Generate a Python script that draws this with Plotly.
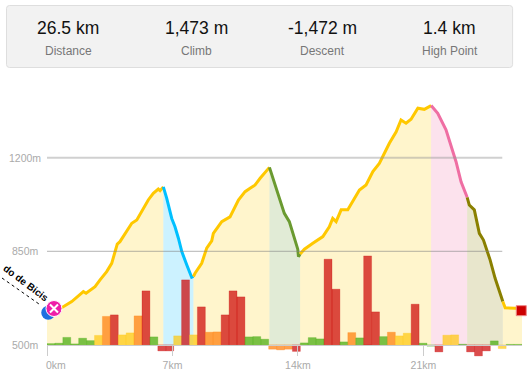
import plotly.graph_objects as go

TOTAL_KM = 26.5
# elevation profile segments: (distance km, elevation m)
seg1_km = [0, .82, 1.38, 2.03, 2.18, 2.68, 2.96, 3.33, 3.61, 3.79, 3.92, 4.07, 4.45, 4.73, 5.01, 5.37, 5.65, 5.93, 6.21, 6.31, 6.49]
seg1_m = [623, 639, 662, 699, 693, 718, 743, 774, 805, 843, 877, 886, 923, 955, 967, 1011, 1042, 1067, 1083, 1077, 1091]
seg2_km = [6.49, 6.68, 6.96, 7.14, 7.33, 7.52, 7.80, 8.07, 8.17]
seg2_m = [1091, 1048, 973, 942, 899, 849, 799, 753, 756]
seg3_km = [8.17, 8.26, 8.63, 8.91, 9.19, 9.28, 9.75, 10.21, 10.68, 11.05, 11.33, 11.61, 11.89, 12.26, 12.41]
seg3_m = [756, 768, 805, 862, 889, 917, 961, 979, 1042, 1073, 1086, 1098, 1123, 1154, 1164]
seg4_km = [12.41, 12.68, 12.96, 13.24, 13.52, 13.71, 13.99, 14.03, 14.12]
seg4_m = [1164, 1110, 1054, 992, 961, 917, 858, 830, 840]
seg5_km = [14.12, 14.36, 14.83, 15.39, 15.75, 15.94, 16.13, 16.41, 16.78, 17.24, 17.43, 17.80, 18.18, 18.54, 19.10, 19.48, 19.75, 20.03, 20.31, 20.69, 21.05, 21.43]
seg5_m = [840, 858, 880, 905, 942, 973, 961, 1005, 1005, 1054, 1079, 1098, 1148, 1179, 1254, 1297, 1341, 1329, 1344, 1385, 1381, 1395]
seg6_km = [21.43, 21.80, 22.26, 22.54, 22.82, 23.10, 23.44]
seg6_m = [1395, 1366, 1304, 1241, 1185, 1110, 1052]
seg7_km = [23.44, 23.56, 23.84, 24.12, 24.35, 24.72, 25.00, 25.43]
seg7_m = [1052, 1023, 1005, 917, 892, 818, 749, 662]
seg8_km = [25.43, 25.56, 26.12, 26.5]
seg8_m = [662, 639, 637, 634]

# gradient bars
grade = [.65, .85, 3.75, .5, 3.35, 2.15, 4.75, 14.25, 15, 5, 6, 14.5, 27, 4, -3, -3, 4.5, 32.5, 5, 19,
         6.35, 6.5, 15, 27, 24, 4, 4.15, 2.85, -2.15, -2.5, -2.15, -3.25, 1, 3.65, 3, 42.85, 27.85, 1.5, 6.15, 3.5,
         44.5, 16.5, 4.15, 6.35, 4.5, 5.85, 20.35, .85, -.65, -3.5, 4.85, 5, .35, -3.5, -5.5, -3, 2, -1.85, .25, .25]
grade_class = list("ggggggyoryyorgrryryroorrrgggooorgggrrgogrrgoyyrggryygrrrgygg")
class_fill = {"g": "rgba(65,170,10,.7)", "y": "rgba(255,200,12,.7)", "o": "rgba(255,123,4,.7)", "r": "rgba(204,0,0,.7)"}
class_edge = {"g": "rgba(65,170,10,.25)", "y": "rgba(255,200,12,.25)", "o": "rgba(255,123,4,.25)", "r": "rgba(204,0,0,.25)"}

stats_values = ["26.5 km", "1,473 m", "-1,472 m", "1.4 km"]
stats_labels = ["Distance", "Climb", "Descent", "High Point"]
km_ticks = [0, 7, 14, 21]
km_labels = ["0km", "7km", "14km", "21km"]
m_ticks = [500, 850, 1200]
m_labels = ["500m", "850m", "1200m"]

W, H = 531, 374
L, R, T, B = 47, 9.1, 90, 14
pw, ph = W - L - R, H - T - B
Y0 = 344.9
PX_PER_M = 0.2674
below = T + ph - Y0


def px(x):
    return (x - L) / pw


def py(y):
    return 1 - (y - T) / ph


fig = go.Figure()
segments = [
    (seg1_km, seg1_m, "#ffc800", "rgba(255,204,0,.2)"),
    (seg2_km, seg2_m, "#00c0ff", "rgba(0,192,255,.2)"),
    (seg3_km, seg3_m, "#ffc800", "rgba(255,204,0,.2)"),
    (seg4_km, seg4_m, "#6a9a30", "rgba(106,154,48,.2)"),
    (seg5_km, seg5_m, "#ffc800", "rgba(255,204,0,.2)"),
    (seg6_km, seg6_m, "#ef6ea3", "rgba(239,110,163,.2)"),
    (seg7_km, seg7_m, "#8a8000", "rgba(138,128,0,.2)"),
    (seg8_km, seg8_m, "#ffc800", "rgba(255,204,0,.2)"),
]
for k, m, col, fil in segments:
    fig.add_trace(go.Scatter(x=k + [k[-1], k[0]], y=m + [500, 500], mode="none", fill="toself",
                             fillcolor=fil, hoverinfo="skip"))
for k, m, col, fil in segments:
    fig.add_trace(go.Scatter(x=k, y=m, mode="lines", line=dict(color=col, width=3), hoverinfo="skip"))

# start / waypoint / end markers
fig.add_trace(go.Scatter(x=[.07], y=[620], mode="markers", cliponaxis=False,
                         marker=dict(size=14, color="#1f6fe0"), hoverinfo="skip"))
fig.add_trace(go.Scatter(x=[.39], y=[636], mode="markers", cliponaxis=False,
                         marker=dict(size=16, color="#ee1fa8", line=dict(color="#fff", width=1)), hoverinfo="skip"))
fig.add_trace(go.Scatter(x=[.39], y=[636], mode="markers", cliponaxis=False,
                         marker=dict(size=8, symbol="x-thin", line=dict(color="#fff", width=2)), hoverinfo="skip"))
fig.add_trace(go.Scatter(x=[26.46], y=[628], mode="markers", cliponaxis=False,
                         marker=dict(size=10, symbol="square", color="#cc0000", line=dict(color="#e88", width=1)), hoverinfo="skip"))

bw = TOTAL_KM / len(grade)
fig.add_trace(go.Bar(
    x=[(i + .5) * bw for i in range(len(grade))], y=grade, width=bw,
    marker=dict(color=[class_fill[c] for c in grade_class],
                line=dict(color=[class_edge[c] for c in grade_class], width=1)),
    yaxis="y2", hoverinfo="skip"))

shapes = [
    dict(type="path", xref="paper", yref="paper", layer="below",
         path=f"M {px(9.5)} {py(5.5)} L {px(509.5)} {py(5.5)} Q {px(512.5)} {py(5.5)} {px(512.5)} {py(8.5)} "
              f"L {px(512.5)} {py(64.5)} Q {px(512.5)} {py(67.5)} {px(509.5)} {py(67.5)} "
              f"L {px(9.5)} {py(67.5)} Q {px(6.5)} {py(67.5)} {px(6.5)} {py(64.5)} "
              f"L {px(6.5)} {py(8.5)} Q {px(6.5)} {py(5.5)} {px(9.5)} {py(5.5)} Z",
         fillcolor="#f2f2f2", line=dict(color="#dedede", width=1)),
    dict(type="line", xref="x", yref="y", x0=0, x1=25.4, y0=1200, y1=1200, layer="above",
         line=dict(color="rgba(150,150,150,.45)", width=2)),
    dict(type="line", xref="x", yref="y", x0=0, x1=25.4, y0=850, y1=850, layer="above",
         line=dict(color="rgba(130,130,130,.6)", width=1)),
    dict(type="line", xref="paper", yref="paper", x0=px(2), x1=px(39), y0=py(278), y1=py(304), layer="above",
         line=dict(color="#000", width=1, dash="dot")),
]

ann = []
centers = [68.3, 196.3, 322.3, 449.7]
for c, v, l in zip(centers, stats_values, stats_labels):
    ann.append(dict(xref="paper", yref="paper", x=px(c), y=py(27.7), text=v, showarrow=False,
                    xanchor="center", yanchor="middle",
                    font=dict(size=17.5, color="#111", family="Liberation Sans")))
    ann.append(dict(xref="paper", yref="paper", x=px(c), y=py(50.7), text=l, showarrow=False,
                    xanchor="center", yanchor="middle",
                    font=dict(size=12, color="#777", family="Liberation Sans")))
ann.append(dict(xref="paper", yref="paper", x=px(26.5), y=py(283.5), text="<b>do de Bicis</b>", textangle=37, showarrow=False,
                xanchor="center", yanchor="middle",
                font=dict(size=10, color="#000", family="Liberation Sans")))
for v, t in zip(m_ticks, m_labels):
    ann.append(dict(xref="paper", yref="y", x=px(25.5), y=v, text=t, showarrow=False,
                    xanchor="center", yanchor="middle",
                    font=dict(size=10.5, color="#aaa", family="Liberation Sans")))
ann.append(dict(xref="paper", yref="paper", x=px(47), y=py(365), text=km_labels[0], showarrow=False,
                xanchor="left", yanchor="middle", xshift=-3,
                font=dict(size=10.5, color="#aaa", family="Liberation Sans")))

fig.update_layout(
    width=W, height=H, margin=dict(l=L, r=R, t=T, b=B, autoexpand=False),
    paper_bgcolor="#fff", plot_bgcolor="rgba(0,0,0,0)", showlegend=False, barmode="overlay",
    font=dict(family="Liberation Sans"), shapes=shapes, annotations=ann,
    xaxis=dict(range=[0, TOTAL_KM], tickvals=km_ticks, ticktext=[" "] + km_labels[1:], ticks="outside", ticklen=10,
               tickcolor="#ccc", tickwidth=1, showgrid=False, zeroline=False, showline=True, linecolor="#ccc",
               linewidth=1, tickfont=dict(size=10.5, color="#aaa"), anchor="free", position=below / ph),
    yaxis=dict(range=[500 - below / PX_PER_M, 500 + (Y0 - T) / PX_PER_M], showticklabels=False,
               showgrid=False, zeroline=False, showline=False, ticks=""),
    yaxis2=dict(range=[-below / 2, (Y0 - T) / 2], overlaying="y", visible=False, fixedrange=True),
)
fig.write_html("out.html", config={"displayModeBar": False},
               post_script="document.body.style.margin='0';document.body.style.overflow='hidden';")
